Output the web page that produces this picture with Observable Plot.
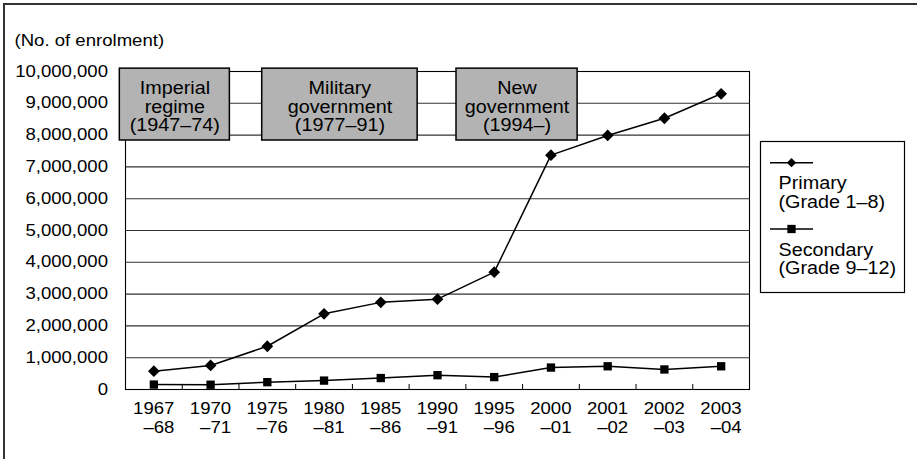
<!DOCTYPE html>
<html>
<head>
<meta charset="utf-8">
<script src="https://cdn.jsdelivr.net/npm/d3@7"></script>
<script src="https://cdn.jsdelivr.net/npm/@observablehq/plot@0.6"></script>
<style>
  body { margin: 0; background: #fff; }
  #chart svg { display: block; }
</style>
</head>
<body>
<div id="chart"></div>
<script>
// School years on the horizontal axis
const years = [
  "1967\n–68", "1970\n–71", "1975\n–76", "1980\n–81", "1985\n–86", "1990\n–91",
  "1995\n–96", "2000\n–01", "2001\n–02", "2002\n–03", "2003\n–04"
];

// Enrolment by level
const primary   = [575000, 755000, 1360000, 2380000, 2740000, 2840000, 3690000, 7370000, 7990000, 8530000, 9300000];
const secondary = [155000, 150000, 230000, 280000, 360000, 450000, 390000, 690000, 730000, 630000, 730000];

// Value axis ticks
const yTicks = d3.range(0, 10000001, 1000000);

// Political periods shown as labelled boxes
const periodLabels = ["Imperial\nregime\n(1947–74)", "Military\ngovernment\n(1977–91)", "New\ngovernment\n(1994–)"];
const seriesLabels = ["Primary\n(Grade 1–8)", "Secondary\n(Grade 9–12)"];
const yLabel = "(No. of enrolment)";

// ---- layout ----
const W = 917, H = 459;
const margin = {top: 71, right: 168, bottom: 70, left: 125};
const plotH = H - margin.top - margin.bottom;
const FONT = '"Liberation Sans", Arial, Helvetica, sans-serif';

// box extents for the period annotations (x in category-index units)
const periodSpans = [[-0.6, 1.34], [1.91, 4.65], [5.335, 7.47]];
const periodY = [7830000, 10090000];

const idx = years.map((_, i) => i);
const rows = idx.map(i => ({i, primary: primary[i], secondary: secondary[i]}));
const periods = periodLabels.map((label, k) => ({
  label, x1: periodSpans[k][0], x2: periodSpans[k][1], y1: periodY[0], y2: periodY[1]
}));

// Legend drawn beside the plot frame
function legendMark() {
  const g = d3.create("svg:g").attr("text-anchor", "start");
  g.append("rect")
    .attr("x", 760.5).attr("y", 141.5).attr("width", 144).attr("height", 151)
    .attr("fill", "#fff").attr("stroke", "#000").attr("stroke-width", 1.2);
  const items = [
    {label: seriesLabels[0], symbol: d3.symbolDiamond2, size: 55, y: 162.7},
    {label: seriesLabels[1], symbol: d3.symbolSquare, size: 8.3 * 8.3, y: 229}
  ];
  for (const it of items) {
    g.append("line").attr("x1", 770).attr("x2", 813).attr("y1", it.y).attr("y2", it.y)
      .attr("stroke", "#000").attr("stroke-width", 1.5);
    g.append("path").attr("transform", `translate(791.5,${it.y})`)
      .attr("d", d3.symbol(it.symbol, it.size)()).attr("fill", "#000");
    const t = g.append("text").attr("x", 778.5).attr("y", it.y + 26.6)
      .attr("font-size", 17.5).attr("fill", "#000").attr("text-anchor", "start");
    it.label.split("\n").forEach((line, j) => {
      t.append("tspan").attr("x", 778.5).attr("dy", j ? 18.8 : 0).text(line);
    });
  }
  return g.node();
}

// Outer figure border (top and left edges)
function borderMark() {
  return d3.create("svg:path")
    .attr("d", `M4,${H}V4H${W}`)
    .attr("fill", "none").attr("stroke", "#333").attr("stroke-width", 2)
    .node();
}

const chart = Plot.plot({
  width: W,
  height: H,
  marginTop: margin.top,
  marginRight: margin.right,
  marginBottom: margin.bottom,
  marginLeft: margin.left,
  style: {fontFamily: FONT, fontSize: "16px", color: "#000", background: "#fff"},
  x: {domain: [-0.5, years.length - 0.5]},
  y: {domain: [0, 10000000]},
  marks: [
    borderMark,
    Plot.ruleY(yTicks.slice(1, -1), {stroke: "#333", strokeWidth: 1.1}),
    Plot.frame({stroke: "#000", strokeWidth: 1.1}),
    Plot.ruleX(d3.range(0.5, years.length - 1), {insetTop: plotH - 5, stroke: "#000"}),
    Plot.axisY({
      ticks: yTicks, tickSize: 0, tickPadding: 17.5,
      tickFormat: d3.format(","), label: null
    }),
    Plot.axisX({
      ticks: idx, tickSize: 0, tickPadding: 10.5,
      tickFormat: i => years[i], textAnchor: "end", dx: 20.5,
      lineHeight: 1.22, label: null
    }),
    Plot.line(rows, {x: "i", y: "secondary", stroke: "#000", strokeWidth: 1.5}),
    Plot.dot(rows, {x: "i", y: "secondary", symbol: "square", r: 4.7, fill: "#000", stroke: "none"}),
    Plot.line(rows, {x: "i", y: "primary", stroke: "#000", strokeWidth: 1.5}),
    Plot.dot(rows, {x: "i", y: "primary", symbol: "diamond2", r: 5.3, fill: "#000", stroke: "none"}),
    Plot.rect(periods, {x1: "x1", x2: "x2", y1: "y1", y2: "y2", fill: "#b3b3b3", stroke: "#000", strokeWidth: 1.5}),
    Plot.text(periods, {
      x: d => (d.x1 + d.x2) / 2, y: d => (d.y1 + d.y2) / 2,
      text: "label", fontSize: 17.5, lineHeight: 1.07, dy: 2, fill: "#000"
    }),
    Plot.text([yLabel], {
      frameAnchor: "top-left", textAnchor: "start", lineAnchor: "bottom",
      dx: -111, dy: -26, fontSize: 16, fill: "#000"
    }),
    legendMark
  ]
});

document.getElementById("chart").append(chart);

// Widen glyphs horizontally to the lettering proportions of the figure
chart.querySelectorAll("text").forEach(t => {
  const size = parseFloat(getComputedStyle(t).fontSize);
  const k = size >= 17 ? 1.13 : 1.16;
  const spans = t.querySelectorAll("tspan");
  const targets = spans.length ? Array.from(spans) : [t];
  targets.forEach(el => {
    const len = el.getComputedTextLength();
    if (len > 0) {
      el.setAttribute("textLength", (len * k).toFixed(2));
      el.setAttribute("lengthAdjust", "spacingAndGlyphs");
    }
  });
});
</script>
</body>
</html>
